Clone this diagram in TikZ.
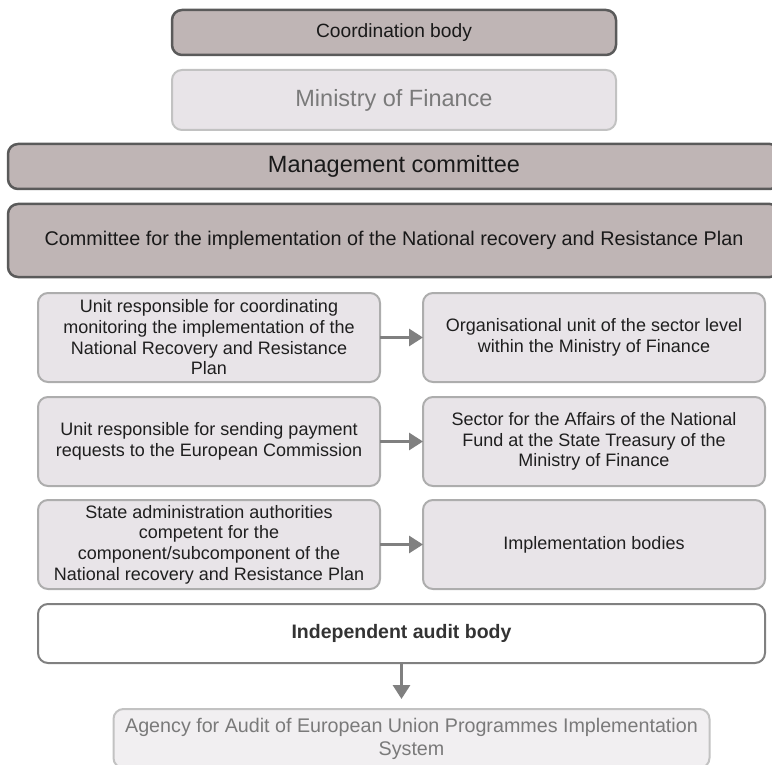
\documentclass[tikz,border=0pt]{standalone}
\usepackage{fontspec}
\setmainfont{Liberation Sans}
\usepackage{tikz}
\usetikzlibrary{positioning,arrows.meta}
\definecolor{boxdark}{HTML}{BFB5B5}
\definecolor{edgedark}{HTML}{5A5A5A}
\definecolor{boxlight}{HTML}{E8E4E8}
\definecolor{edgelight}{HTML}{C2C2C2}
\definecolor{edgemid}{HTML}{ADADAD}
\definecolor{arrowgray}{HTML}{808080}
\definecolor{textgray}{HTML}{7A7A7A}
\tikzset{
  line/.style={-{Triangle[length=14pt,width=17pt]}, line width=3pt, draw=arrowgray},
  box/.style={draw, rounded corners=10pt, align=center, inner sep=3pt, outer sep=0pt, line width=2pt},
  darkbox/.style={box, fill=boxdark, draw=edgedark, line width=2.5pt, text=black!90},
  lightbox/.style={box, fill=boxlight, draw=edgelight, text=textgray},
  unitbox/.style={box, fill=boxlight, draw=edgemid, minimum width=342pt, minimum height=89pt,
    font=\fontsize{18}{20.7}\selectfont, text=black!88},
  auditbox/.style={box, fill=white, draw=arrowgray, minimum width=727pt, minimum height=59pt,
    font=\fontsize{19.5}{22}\bfseries, text=black!80},
  agencybox/.style={box, fill=boxlight!60, draw=edgelight, minimum width=596pt, minimum height=59pt,
    font=\fontsize{19.7}{23}\selectfont, text=textgray}
}
\begin{document}
\begin{tikzpicture}[node distance=15pt]
  \useasboundingbox (0,0) rectangle (772pt,-765pt);
  \node[darkbox, minimum width=444pt, minimum height=45pt, font=\fontsize{19.2}{22}\selectfont] (coord) at (394pt,-32.5pt) {Coordination body};
  \node[lightbox, minimum width=444pt, minimum height=60pt, font=\fontsize{23.5}{26}\selectfont, below=of coord] (mof) {Ministry of Finance};
  \node[darkbox, minimum width=772pt, minimum height=45pt, font=\fontsize{23.5}{26}\selectfont, below=14pt of mof] (mgmt) {Management committee};
  \node[darkbox, minimum width=772pt, minimum height=73pt, font=\fontsize{19.8}{22}\selectfont, below=of mgmt] (nrrp) {Committee for the implementation of the National recovery and Resistance Plan};

  \node[unitbox, below=16pt of nrrp.south west, anchor=north west, xshift=30pt] (unitA) {Unit responsible for coordinating\\monitoring the implementation of the\\National Recovery and Resistance\\Plan};
  \node[unitbox, right=43pt of unitA] (orgA) {Organisational unit of the sector level\\within the Ministry of Finance};
  \node[unitbox, below=of unitA] (unitB) {Unit responsible for sending payment\\requests to the European Commission};
  \node[unitbox, right=43pt of unitB] (orgB) {Sector for the Affairs of the National\\Fund at the State Treasury of the\\Ministry of Finance};
  \node[unitbox, below=14pt of unitB] (unitC) {State administration authorities\\competent for the\\component/subcomponent of the\\National recovery and Resistance Plan};
  \node[unitbox, right=43pt of unitC] (orgC) {Implementation bodies};

  \node[auditbox, below=of unitC.south west, anchor=north west] (audit) {Independent audit body};
  \node[agencybox, below=46pt of audit, xshift=10pt] (agency) {Agency for Audit of European Union Programmes Implementation\\System};

  \draw[line] (unitA) -- (orgA);
  \draw[line] (unitB) -- (orgB);
  \draw[line] (unitC) -- (orgC);
  \draw[line, shorten >=10pt] (audit.south) -- (audit.south |- agency.north);
\end{tikzpicture}
\end{document}
